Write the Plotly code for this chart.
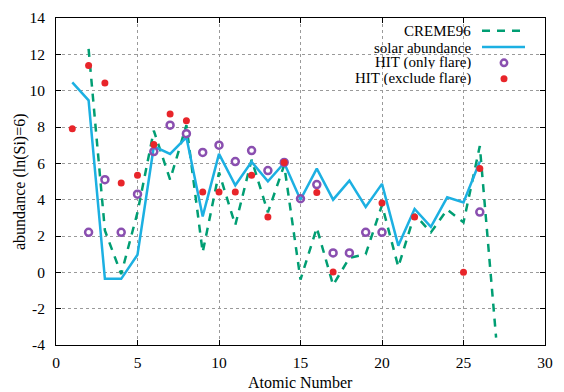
import plotly.graph_objects as go

# Solar abundance, Z = 1..26
solar_z = list(range(1, 27))
solar_val = [10.46, 9.47, -0.36, -0.36, 0.97, 6.93, 6.52, 7.43, 3.08, 6.52,
             4.79, 6.08, 5.01, 6.02, 4.00, 5.71, 4.00, 5.05, 3.60, 4.87,
             1.47, 3.49, 2.50, 4.13, 3.85, 6.10]

# CREME96 model abundances, Z = 2..27
creme_z = list(range(2, 28))
creme_val = [12.3, 2.3, -0.1, 3.3, 7.8, 5.1, 8.1, 1.1, 5.5, 2.6,
             6.2, 3.3, 5.9, -0.4, 2.45, -0.7, 0.8, 1.0, 3.7, 0.3,
             3.2, 2.2, 3.45, 2.75, 6.95, -3.6]

# HIT measurements, flare periods only
flare_z = [2, 3, 4, 5, 6, 7, 8, 9, 10, 11, 12, 13, 14, 15, 16, 17, 18, 19, 20, 26]
flare_val = [2.2, 5.1, 2.2, 4.3, 6.65, 8.1, 7.63, 6.6, 7.0, 6.1,
             6.7, 5.6, 6.05, 4.05, 4.83, 1.07, 1.07, 2.2, 2.2, 3.32]

# HIT measurements, flare periods excluded
quiet_z = [1, 2, 3, 4, 5, 6, 7, 8, 9, 10, 11, 12, 13, 14, 16, 17, 20, 22, 25, 26]
quiet_val = [7.91, 11.39, 10.42, 4.92, 5.34, 7.03, 8.72, 8.35, 4.42, 4.42,
             4.42, 5.34, 3.05, 6.05, 4.4, 0.02, 3.82, 3.05, 0.0, 5.71]

series_names = ["CREME96", "solar abundance", "HIT (only flare)", "HIT (exclude flare)"]

x_ticks = [0, 5, 10, 15, 20, 25, 30]
y_ticks = [-4, -2, 0, 2, 4, 6, 8, 10, 12, 14]
y_tick_text = [str(v) for v in y_ticks]  # plain hyphen minus signs

x_title = "Atomic Number"
y_title = "abundance (ln(Si)=6)"

GREEN = "#009e73"
CYAN = "#1cb0e2"
PURPLE = "#8a4fb0"
RED = "#e8252a"
FONT = "Liberation Serif"
FSIZE = 15.5

W, H = 564, 392
ML, MR, MT, MB = 56, 19, 18, 47
PW, PH = W - ML - MR, H - MT - MB


def px(xp):
    return (xp - ML) / PW


def py(yp):
    return 1 - (yp - MT) / PH


fig = go.Figure()
fig.add_trace(go.Scatter(x=creme_z, y=creme_val, mode="lines", name=series_names[0],
                         line=dict(color=GREEN, width=2.5, dash="8px,7px")))
fig.add_trace(go.Scatter(x=solar_z, y=solar_val, mode="lines", name=series_names[1],
                         line=dict(color=CYAN, width=2.5)))
fig.add_trace(go.Scatter(x=flare_z, y=flare_val, mode="markers", name=series_names[2],
                         marker=dict(symbol="circle-open", size=7, color=PURPLE,
                                     line=dict(color=PURPLE, width=2.5))))
fig.add_trace(go.Scatter(x=quiet_z, y=quiet_val, mode="markers", name=series_names[3],
                         marker=dict(symbol="circle", size=7, color=RED)))

shapes = []
annotations = []

# opaque key box over the grid
shapes.append(dict(type="rect", xref="paper", yref="paper", layer="between",
                   x0=px(290), x1=1, y0=py(86), y1=1,
                   fillcolor="white", line=dict(width=0)))

# key entries: right-aligned text with the sample to its right
rows = [30.7, 47.0, 62.8, 78.8]
text_right = px(472)
for name, yrow in zip(series_names, rows):
    annotations.append(dict(xref="paper", yref="paper", x=text_right, y=py(yrow),
                            text=name, showarrow=False, xanchor="right", yanchor="middle",
                            height=13, borderpad=0,
                            font=dict(family=FONT, size=15, color="black")))

shapes.append(dict(type="line", xref="paper", yref="paper", layer="above",
                   x0=px(482), x1=px(523), y0=py(rows[0]), y1=py(rows[0]),
                   line=dict(color=GREEN, width=2.5, dash="8px,7px")))
shapes.append(dict(type="line", xref="paper", yref="paper", layer="above",
                   x0=px(482), x1=px(525), y0=py(rows[1]), y1=py(rows[1]),
                   line=dict(color=CYAN, width=2.5)))
shapes.append(dict(type="circle", xref="paper", yref="paper", layer="above",
                   xsizemode="pixel", ysizemode="pixel",
                   xanchor=px(504), yanchor=py(rows[2]),
                   x0=-3.2, x1=3.2, y0=-3.2, y1=3.2,
                   line=dict(color=PURPLE, width=2.5)))
shapes.append(dict(type="circle", xref="paper", yref="paper", layer="above",
                   xsizemode="pixel", ysizemode="pixel",
                   xanchor=px(504), yanchor=py(rows[3]),
                   x0=-3.5, x1=3.5, y0=-3.5, y1=3.5,
                   fillcolor=RED, line=dict(color=RED, width=0)))

# axis titles
annotations.append(dict(xref="paper", yref="paper", x=px(300.5), y=py(382),
                        text=x_title, showarrow=False, xanchor="center", yanchor="middle",
                        height=15, borderpad=0,
                        font=dict(family=FONT, size=16, color="black")))
annotations.append(dict(xref="paper", yref="paper", x=px(20), y=py(182),
                        text=y_title, showarrow=False, xanchor="center", yanchor="middle",
                        textangle=-90,
                        font=dict(family=FONT, size=16, color="black")))

axis_common = dict(
    showline=True, linecolor="black", linewidth=1, mirror="ticks",
    ticks="inside", ticklen=5, tickcolor="black", tickwidth=1,
    showgrid=True, gridcolor="#9a9a9a", gridwidth=1, griddash="dot",
    zeroline=False, automargin=False,
    tickfont=dict(family=FONT, size=FSIZE, color="black"),
)

fig.update_layout(
    width=W, height=H,
    margin=dict(l=ML, r=MR, t=MT, b=MB),
    paper_bgcolor="white", plot_bgcolor="white",
    showlegend=False,
    shapes=shapes,
    annotations=annotations,
    xaxis=dict(range=[0, 30], tickvals=x_ticks, ticklabelstandoff=3, **axis_common),
    yaxis=dict(range=[-4, 14], tickvals=y_ticks, ticktext=y_tick_text,
               ticklabelstandoff=7, **axis_common),
)

fig.write_html("out.html")
